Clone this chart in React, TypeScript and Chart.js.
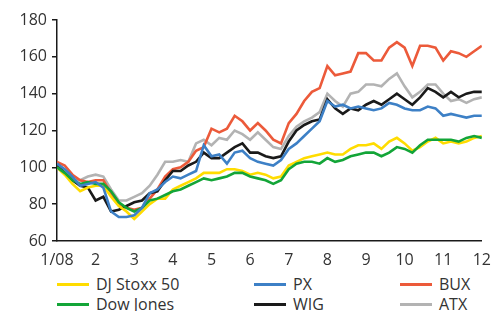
import React, { useEffect, useRef } from "react";
import { Chart, registerables } from "chart.js";

Chart.register(...registerables);

const monthLabels = ["1/08", "2", "3", "4", "5", "6", "7", "8", "9", "10", "11", "12"];
const stepsPerMonth = 5;

const djStoxx = [100, 96, 91, 87, 89, 90, 90, 84, 79, 76, 72, 76, 80, 83, 83, 88, 90, 92, 94, 97, 97, 97, 99, 99, 98, 96, 97, 96, 94, 95, 101, 103, 105, 106, 107, 108, 107, 107, 110, 112, 112, 113, 110, 114, 116, 113, 109, 111, 114, 116, 113, 114, 113, 114, 116, 117];
const dowJones = [100, 97, 93, 91, 92, 91, 91, 87, 81, 78, 76, 78, 82, 83, 85, 87, 88, 90, 92, 94, 93, 94, 95, 97, 97, 95, 94, 93, 91, 93, 99, 102, 103, 103, 102, 105, 103, 104, 106, 107, 108, 108, 106, 108, 111, 110, 108, 112, 115, 115, 115, 115, 114, 116, 117, 116];
const px = [102, 99, 95, 90, 91, 92, 89, 76, 73, 73, 74, 78, 86, 88, 92, 95, 94, 96, 98, 112, 106, 107, 102, 108, 109, 105, 103, 102, 101, 104, 110, 113, 117, 121, 125, 136, 133, 134, 132, 133, 132, 131, 132, 135, 134, 132, 131, 131, 133, 132, 128, 129, 128, 127, 128, 128];
const wig = [101, 97, 93, 90, 89, 82, 84, 76, 77, 79, 81, 82, 86, 87, 93, 98, 98, 101, 103, 108, 105, 105, 108, 111, 113, 108, 108, 106, 105, 106, 114, 120, 123, 125, 126, 137, 132, 129, 132, 131, 134, 136, 134, 137, 140, 137, 134, 138, 143, 141, 138, 141, 138, 140, 141, 141];
const bux = [103, 101, 96, 93, 92, 93, 93, 86, 80, 78, 77, 78, 83, 88, 95, 99, 100, 103, 109, 111, 121, 119, 121, 128, 125, 120, 124, 120, 115, 113, 124, 129, 136, 141, 143, 155, 150, 151, 152, 162, 162, 158, 158, 165, 168, 165, 155, 166, 166, 165, 158, 163, 162, 160, 163, 166];
const atx = [100, 98, 93, 93, 95, 96, 95, 88, 82, 82, 84, 86, 90, 96, 103, 103, 104, 103, 113, 115, 112, 116, 115, 120, 118, 115, 119, 115, 111, 110, 117, 122, 125, 127, 130, 140, 136, 133, 140, 141, 145, 145, 144, 148, 151, 144, 138, 141, 145, 145, 140, 136, 137, 135, 137, 138];

const seriesNames = ["DJ Stoxx 50", "PX", "BUX", "Dow Jones", "WIG", "ATX"];
const seriesColors = ["#ffdc00", "#3d80c6", "#ec5a3a", "#13a538", "#1a1a1a", "#b3b3b3"];

const FONT = "'Open Sans', 'DejaVu Sans', sans-serif";

function toPoints(values: number[]) {
  return values.map((v, i) => ({ x: i / stepsPerMonth, y: v }));
}

export default function App() {
  const canvasRef = useRef<HTMLCanvasElement | null>(null);

  useEffect(() => {
    const canvas = canvasRef.current;
    if (!canvas) return;
    const allValues = [djStoxx, px, bux, dowJones, wig, atx];
    const drawOrder = [2, 0, 4, 1, 3, 5];
    const chart = new Chart(canvas, {
      type: "line",
      data: {
        datasets: allValues.map((vals, k) => ({
          label: seriesNames[k],
          data: toPoints(vals),
          borderColor: seriesColors[k],
          backgroundColor: seriesColors[k],
          borderWidth: 2.6,
          pointRadius: 0,
          tension: 0,
          order: drawOrder[k],
        })),
      },
      options: {
        responsive: false,
        animation: false,
        layout: { padding: { left: 0, right: 11, top: 20, bottom: 0 } },
        plugins: { legend: { display: false }, tooltip: { enabled: false } },
        scales: {
          x: {
            type: "linear",
            min: 0,
            max: 11,
            afterFit: (s: any) => {
              s.height = 29;
            },
            ticks: {
              stepSize: 1,
              autoSkip: false,
              maxRotation: 0,
              padding: 2,
              color: "#333",
              font: { family: FONT, size: 16 },
              callback: (v: any) => monthLabels[Math.round(Number(v))] ?? "",
            },
            grid: { display: false },
            border: { display: true, color: "#1a1a1a", width: 1.5 },
          },
          y: {
            min: 60,
            max: 180,
            afterFit: (s: any) => {
              s.width = 57;
            },
            ticks: {
              stepSize: 20,
              padding: 5,
              color: "#333",
              font: { family: FONT, size: 16 },
            },
            grid: {
              display: true,
              drawOnChartArea: false,
              drawTicks: true,
              tickLength: 5,
              color: "#1a1a1a",
              lineWidth: 1.5,
            },
            border: { display: true, color: "#1a1a1a", width: 1.5 },
          },
        },
      },
    });
    return () => chart.destroy();
  }, []);

  const legendRows = [
    [0, 1, 2],
    [3, 4, 5],
  ];
  const colX = [57, 254, 400];
  const rowY = [284, 304];

  return (
    <div style={{ position: "absolute", left: 0, top: 0, width: 493, height: 311, background: "#fff", fontFamily: FONT }}>
      <canvas ref={canvasRef} width={493} height={270} style={{ position: "absolute", left: 0, top: 0 }} />
      {legendRows.map((row, r) =>
        row.map((k, c) => (
          <div
            key={k}
            style={{
              position: "absolute",
              left: colX[c],
              top: rowY[r] - 11,
              height: 22,
              display: "flex",
              alignItems: "center",
              whiteSpace: "nowrap",
            }}
          >
            <span style={{ display: "inline-block", width: 32, height: 3, background: seriesColors[k] }} />
            <span style={{ marginLeft: 7, fontSize: 16, color: "#333", lineHeight: "22px" }}>{seriesNames[k]}</span>
          </div>
        ))
      )}
    </div>
  );
}
